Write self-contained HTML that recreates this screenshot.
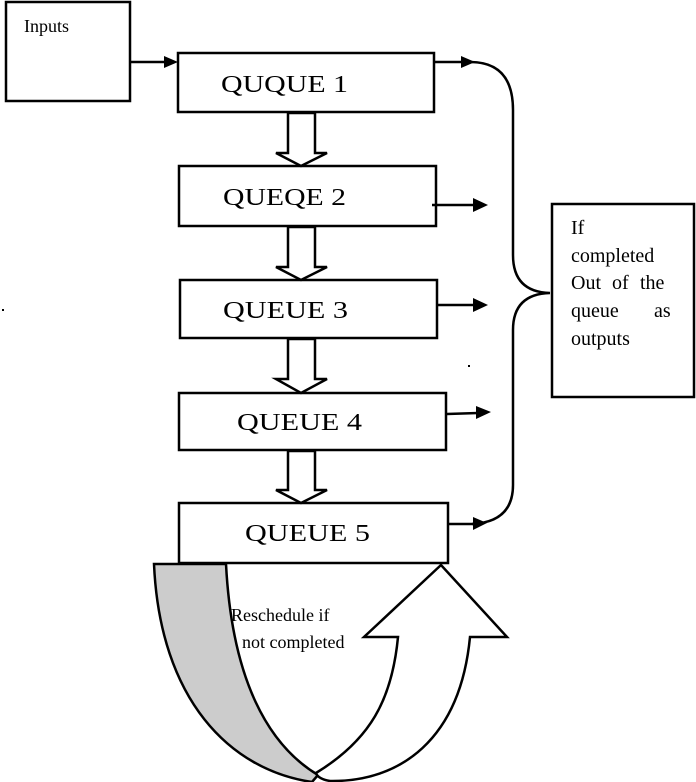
<!DOCTYPE html>
<html><head><style>body{margin:0;background:#fff}svg{display:block}</style></head><body>
<svg width="696" height="782" viewBox="0 0 696 782" xmlns="http://www.w3.org/2000/svg" font-family="Liberation Serif, serif">
<g fill="none" stroke="#000" stroke-width="2.5">
<rect x="6" y="2" width="124" height="99"/>
<rect x="178" y="53" width="256" height="59"/>
<rect x="179" y="166" width="257" height="60"/>
<rect x="180" y="280" width="257" height="58"/>
<rect x="179" y="393" width="267" height="57"/>
<rect x="179" y="503" width="269" height="60"/>
<rect x="552" y="204" width="142" height="193"/>
<line x1="130" y1="62" x2="166" y2="62"/>
<line x1="434" y1="62" x2="462" y2="62"/>
<line x1="432" y1="205" x2="475" y2="205"/>
<line x1="437" y1="305" x2="475" y2="305"/>
<line x1="447" y1="414" x2="478" y2="413"/>
<line x1="447" y1="524" x2="475" y2="524"/>
<path d="M470 62 Q513 62 513 110 L513 255 Q513 292 550 293 Q513 294 513 330 L513 485 Q513 522 472 524"/>
</g>
<g fill="#000">
<polygon points="164,56 178,62 164,68"/>
<polygon points="461,56 475,62 461,68"/>
<polygon points="473,198 488,205 473,212"/>
<polygon points="473,298 488,305 473,312"/>
<polygon points="476,406 491,412 476,419"/>
<polygon points="473,517 487,523 473,530"/>
<rect x="468" y="365" width="2" height="2"/>
<rect x="2" y="309" width="2" height="2"/>
</g>
<g fill="#fff" stroke="#000" stroke-width="2.5">
<polygon points="288,113 315,113 315,153 327,153 301,166 276,153 288,153"/>
<polygon points="288,227 315,227 315,267 327,267 301,280 276,267 288,267"/>
<polygon points="288,339 315,339 315,379 327,379 301,393 276,379 288,379"/>
<polygon points="288,451 315,451 315,490 327,490 301,503 276,490 288,490"/>
</g>
<path d="M154 564 L226 564 C232 680 268 745 318 775 L312 782 C230 770 160 700 154 564 Z" fill="#ccc" stroke="#000" stroke-width="2.5"/>
<path d="M316 773 C370 740 392 700 398 637 L364 637 L441 565 L507 637 L470 637 C460 740 400 782 330 781 Q318 779 316 773 Z" fill="#fff" stroke="#000" stroke-width="2.5"/>
<g font-size="24" fill="#000">
<text x="221" y="92" textLength="127" lengthAdjust="spacingAndGlyphs">QUQUE 1</text>
<text x="223" y="205" textLength="123" lengthAdjust="spacingAndGlyphs">QUEQE 2</text>
<text x="223" y="318" textLength="125" lengthAdjust="spacingAndGlyphs">QUEUE 3</text>
<text x="237" y="430" textLength="125" lengthAdjust="spacingAndGlyphs">QUEUE 4</text>
<text x="245" y="541" textLength="125" lengthAdjust="spacingAndGlyphs">QUEUE 5</text>
</g>
<g font-size="18" fill="#000">
<text x="24" y="32">Inputs</text>
<text x="231" y="621">Reschedule if</text>
<text x="242" y="648">not completed</text>
</g>
<g font-size="20" fill="#000">
<text x="571" y="234">If</text>
<text x="571" y="262">completed</text>
<text x="571" y="289">Out</text><text x="612" y="289">of</text><text x="640" y="289">the</text>
<text x="571" y="317">queue</text><text x="654" y="317">as</text>
<text x="571" y="345">outputs</text>
</g>
</svg>
</body></html>
